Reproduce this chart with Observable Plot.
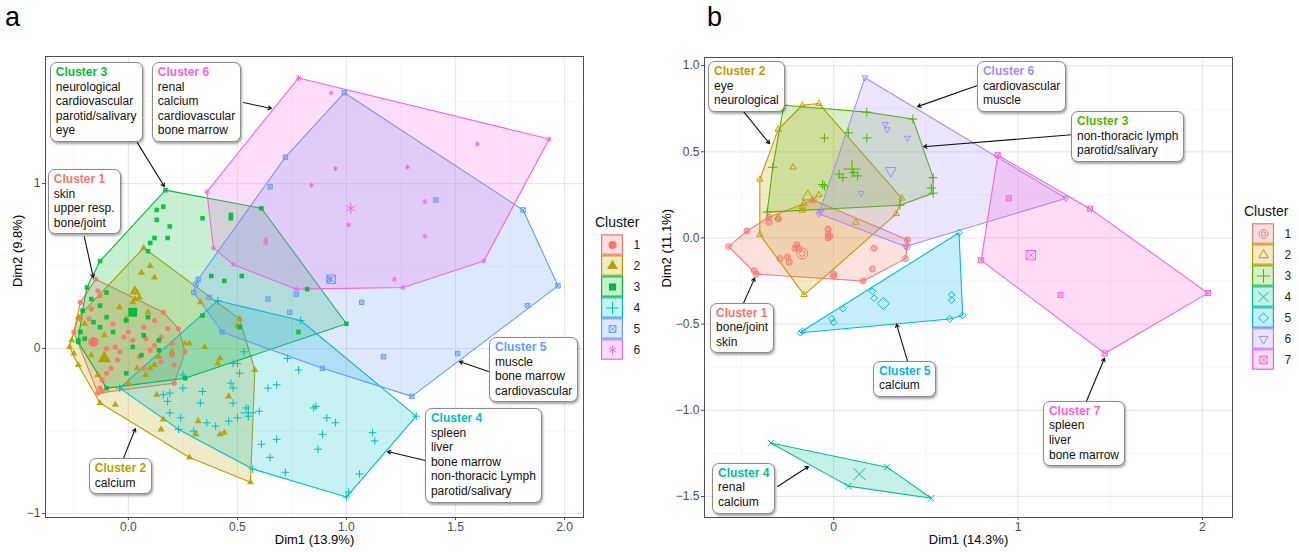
<!DOCTYPE html>
<html><head><meta charset="utf-8">
<script src="https://cdn.jsdelivr.net/npm/d3@7"></script>
<script src="https://cdn.jsdelivr.net/npm/@observablehq/plot@0.6"></script>
<style>
body{margin:0;background:#fff;font-family:"Liberation Sans",Arial,sans-serif;}
#wrap{position:relative;width:1299px;height:552px;overflow:hidden;background:#fff;}
.abs{position:absolute;white-space:nowrap;}
.box{position:absolute;background:#fff;border:1.3px solid #8c8c8c;border-radius:7px;box-shadow:1px 1.5px 2.5px rgba(0,0,0,0.35);padding:2px 5px 3px 5px;font-size:12px;line-height:14.6px;color:#111;white-space:nowrap;}
.box b{display:block;}
</style></head><body><div id="wrap"></div><script>
// ---------- Panel a data ----------
const clustersA = ["1","2","3","4","5","6"];
const colorsA = ["#F8766D","#B79F00","#00BA38","#00BFC4","#619CFF","#F564E3"];
const a1 = [[-0.15,0.42],[0.16,0.22],[0.23,0.12],[0.26,-0.02],[0.21,-0.21],[-0.12,-0.26],[-0.14,-0.27],[-0.25,0.10],[-0.22,0.28],
 [-0.14,0.35],[-0.13,0.32],[-0.17,0.24],[-0.18,0.18],[-0.07,0.15],[-0.02,0.07],[0.07,0.13],[0.08,0.06],[0.10,-0.01],[-0.05,-0.07],[-0.08,-0.12],
 [-0.10,-0.15],[0.07,-0.12],[0.20,-0.04],[0.20,0.03],[0.15,0.07],[0.18,0.12],[0.02,0.05],[-0.04,-0.02],[-0.12,-0.19],[-0.22,0.18],[-0.13,-0.24],
 [0.12,0.02],[0.15,-0.08],[0.05,-0.05],[0.21,-0.10],[-0.06,0.01],[0.12,0.17],[0.00,0.10],[-0.10,0.00]];
const a2 = [[0.07,0.61],[0.51,0.18],[0.58,-0.13],[0.56,-0.81],[0.28,-0.66],[-0.13,-0.33],[-0.23,-0.10],[-0.27,0.01],[-0.26,0.05],
 [0.10,0.50],[0.12,0.43],[0.06,0.46],[0.03,0.36],[0.02,0.34],[0.04,0.34],[0.02,0.28],[-0.01,0.18],[-0.11,0.08],[0.33,0.28],[0.28,0.03],
 [0.35,0.01],[0.42,-0.06],[0.41,-0.09],[0.50,0.14],[0.12,-0.10],[0.10,-0.12],[0.04,-0.12],[0.13,-0.28],[-0.06,-0.34],[0.16,-0.43],[0.15,-0.49],
 [0.32,-0.44],[0.31,-0.52],[0.44,-0.51],[0.46,-0.29],[0.42,-0.52],[-0.23,0.19],[-0.20,0.15],[-0.17,-0.04],[-0.25,-0.03],[-0.14,-0.16],[0.00,-0.21],
 [0.08,-0.16],[0.26,0.03],[0.03,0.30],[0.05,0.31],[0.14,-0.05],[0.20,-0.02],[-0.04,0.25],[0.09,0.22]];
const a3 = [[0.17,0.96],[0.61,0.85],[1.00,0.15],[-0.10,-0.24],[-0.23,0.05],[-0.19,0.37],
 [0.13,0.84],[0.16,0.86],[0.13,0.78],[0.19,0.74],[0.12,0.67],[0.10,0.64],[0.18,0.67],[0.09,0.59],[0.34,0.79],[0.47,0.81],[0.47,0.79],
 [0.38,0.44],[0.44,0.41],[0.52,0.44],[0.82,0.36],[-0.13,0.53],[0.34,0.20],[0.51,0.13],[0.78,0.10],[0.26,-0.18],[0.14,-0.01],[0.02,0.01],
 [-0.17,0.30],[-0.13,0.26],[-0.21,0.23],[-0.10,0.19],[-0.16,0.16],[-0.13,0.13],[-0.22,0.10],[-0.20,0.06],[-0.07,0.10],[-0.01,0.17],[0.09,0.19],
 [0.14,0.05],[-0.01,-0.15],[0.06,-0.04],[-0.10,0.34],[0.07,0.08],[-0.23,0.04]];
const a4 = [[-0.04,-0.24],[0.41,0.29],[0.79,0.17],[1.32,-0.41],[1.00,-0.90],[0.57,-0.73],
 [0.53,-0.02],[0.50,-0.09],[0.51,-0.15],[0.48,-0.24],[0.54,-0.36],[0.55,-0.41],[0.50,-0.42],[0.60,-0.38],[0.64,-0.24],[0.68,-0.22],[0.73,-0.06],
 [0.78,-0.13],[0.86,-0.35],[0.85,-0.36],[0.91,-0.42],[0.95,-0.45],[0.89,-0.52],[0.87,-0.61],[0.68,-0.55],[0.61,-0.58],[0.65,-0.66],[0.72,-0.75],
 [1.06,-0.76],[1.12,-0.51],[1.13,-0.56],[1.01,-0.87],[0.16,-0.28],[0.19,-0.27],[0.19,-0.39],[0.25,-0.24],[0.25,-0.16],[0.33,-0.33],[0.34,-0.26],
 [0.36,-0.45],[0.24,-0.42],[0.30,-0.50],[0.23,-0.49],[0.47,-0.21],[0.48,-0.33],[0.48,-0.09],[0.18,-0.32],[0.46,-0.44],[0.40,-0.47]];
const a5 = [[0.99,1.55],[1.81,0.84],[1.97,0.38],[1.30,-0.29],[0.89,-0.12],[0.43,0.10],[0.30,0.34],[0.31,0.39],
 [0.72,1.16],[0.65,0.98],[0.92,0.42],[1.41,0.90],[0.64,0.30],[0.77,0.33],[0.74,0.22],[1.07,0.28],[1.17,-0.05],[1.51,-0.03],[1.83,0.26],[0.37,0.31],[0.32,0.42]];
const a6 = [[0.78,1.64],[1.93,1.27],[1.63,0.53],[1.26,0.37],[0.77,0.36],[0.48,0.51],[0.39,0.61],[0.36,0.95],
 [0.93,1.55],[1.60,1.24],[0.95,1.09],[1.28,1.10],[0.84,0.99],[1.01,0.75],[1.36,0.89],[1.36,0.68],[1.22,0.42],[0.63,0.66],[0.63,0.64]];
const centroidsA = [["1",-0.16,0.04],["2",-0.11,-0.06],["3",0.02,0.22],["4",0.55,-0.39],["5",0.93,0.42],["6",1.02,0.85]];
const aXTicks = [0,0.5,1,1.5,2], aXMinor = [-0.25,0.25,0.75,1.25,1.75];
const aYTicks = [-1,0,1], aYMinor = [-0.5,0.5,1.5];
const notesA = [
 {c:"3", lines:["neurological","cardiovascular","parotid/salivary","eye"], bx:-0.358, by:1.733, x1:0.041, y1:1.248, x2:0.165, y2:0.982},
 {c:"6", lines:["renal","calcium","cardiovascular","bone marrow"], bx:0.110, by:1.733, x1:0.528, y1:1.491, x2:0.656, y2:1.455},
 {c:"1", lines:["skin","upper resp.","bone/joint"], bx:-0.367, by:1.085, x1:-0.202, y1:0.679, x2:-0.161, y2:0.430},
 {c:"2", lines:["calcium"], bx:-0.179, by:-0.667, x1:-0.023, y1:-0.667, x2:0.032, y2:-0.485},
 {c:"5", lines:["muscle","bone marrow","cardiovascular"], bx:1.656, by:0.067, x1:1.651, y1:-0.139, x2:1.518, y2:-0.079},
 {c:"4", lines:["spleen","liver","bone marrow","non-thoracic Lymph","parotid/salivary"], bx:1.362, by:-0.364, x1:1.362, y1:-0.679, x2:1.188, y2:-0.624}
];
// ---------- Panel b data ----------
const clustersB = ["1","2","3","4","5","6","7"];
const colorsB = ["#F8766D","#C49A00","#53B400","#00C094","#00B6EB","#A58AFF","#FB61D7"];
const b1 = [[-0.57,-0.05],[-0.47,0.04],[-0.35,0.12],[-0.11,0.22],[0.40,-0.01],[0.40,-0.05],[0.39,-0.12],[0.16,-0.25],[0.00,-0.22],[-0.42,-0.21],[-0.43,-0.19],
 [-0.35,0.09],[-0.30,0.11],[-0.20,-0.04],[-0.21,-0.06],[-0.19,-0.06],[-0.29,-0.12],[-0.25,-0.11],[-0.24,-0.14],[-0.03,0.05],[-0.03,0.02],[-0.02,0.01],[-0.03,0.00],[0.22,-0.06],[0.21,-0.18],[0.00,-0.21]];
const b2 = [[-0.17,0.77],[-0.08,0.78],[0.37,0.23],[0.34,0.14],[-0.16,-0.33],[-0.40,0.02],[-0.40,0.34],[-0.30,0.63],
 [-0.22,0.41],[-0.08,0.25],[-0.16,0.20],[-0.17,0.16],[-0.30,0.12],[0.12,0.09],[-0.17,0.18]];
const b3 = [[-0.27,0.77],[0.18,0.73],[0.43,0.69],[0.54,0.35],[0.54,0.26],[0.36,0.19],[-0.36,0.15],
 [-0.33,0.41],[-0.05,0.58],[0.18,0.58],[0.08,0.61],[0.03,0.37],[0.05,0.35],[0.11,0.38],[0.13,0.36],[-0.06,0.31],[0.53,0.29],[-0.05,0.30]];
const b4 = [[-0.34,-1.19],[0.29,-1.33],[0.53,-1.51],[0.08,-1.44]];
const b5 = [[-0.18,-0.55],[-0.17,-0.54],[0.68,0.03],[0.70,-0.45],[0.63,-0.47],[0.05,-0.41],[-0.01,-0.47],[0.00,-0.49],[0.21,-0.31],[0.22,-0.35],[0.64,-0.33],[0.64,-0.36]];
const b6 = [[0.17,0.93],[1.26,0.23],[0.39,-0.05],[-0.08,0.14],[0.28,0.66],[0.29,0.63],[0.40,0.58],[0.15,0.26],[-0.07,0.15]];
const b7 = [[0.89,0.48],[1.39,0.17],[2.03,-0.32],[1.47,-0.67],[0.80,-0.13],[0.95,0.23],[1.23,-0.33]];
const centroidsB = [["1",-0.17,-0.09],["2",-0.14,0.24],["3",0.10,0.40],["4",0.14,-1.37],["5",0.27,-0.38],["6",0.31,0.39],["7",1.07,-0.10]];
const bXTicks = [0,1,2], bXMinor = [-0.5,0.5,1.5];
const bYTicks = [-1.5,-1,-0.5,0,0.5,1], bYMinor = [-1.25,-0.75,-0.25,0.25,0.75];
const notesB = [
 {c:"2", lines:["eye","neurological"], bx:-0.678, by:1.023, x1:-0.488, y1:0.733, x2:-0.347, y2:0.547},
 {c:"6", lines:["cardiovascular","muscle"], bx:0.780, by:1.023, x1:0.780, y1:0.884, x2:0.455, y2:0.762},
 {c:"3", lines:["non-thoracic lymph","parotid/salivary"], bx:1.290, by:0.733, x1:1.290, y1:0.599, x2:0.488, y2:0.529},
 {c:"1", lines:["bone/joint","skin"], bx:-0.667, by:-0.378, x1:-0.488, y1:-0.378, x2:-0.428, y2:-0.233},
 {c:"5", lines:["calcium"], bx:0.217, by:-0.715, x1:0.401, y1:-0.715, x2:0.341, y2:-0.5},
 {c:"4", lines:["renal","calcium"], bx:-0.656, by:-1.308, x1:-0.304, y1:-1.442, x2:-0.136, y2:-1.326},
 {c:"7", lines:["spleen","liver","bone marrow"], bx:1.138, by:-0.948, x1:1.371, y1:-0.948, x2:1.469, y2:-0.698}
];

// ---------- custom symbols ----------
const symRing = {draw(ctx, size){const r=Math.sqrt(size/Math.PI); ctx.moveTo(r,0); ctx.arc(0,0,r,0,2*Math.PI); ctx.moveTo(r*0.5,0); ctx.arc(0,0,r*0.5,0,2*Math.PI);}};
const symSquareX = {draw(ctx, size){const s=Math.sqrt(size/Math.PI)*0.85; ctx.rect(-s,-s,2*s,2*s); ctx.moveTo(-s,-s); ctx.lineTo(s,s); ctx.moveTo(s,-s); ctx.lineTo(-s,s);}};
const symTriDown = {draw(ctx, size){const R=Math.sqrt(size/Math.PI)*1.15; ctx.moveTo(0,R); ctx.lineTo(-R*0.866,-R*0.5); ctx.lineTo(R*0.866,-R*0.5); ctx.closePath();}};
const symbolsA = ["circle","triangle","square","plus",symSquareX,"asterisk"];
const symbolsB = [symRing,"triangle2","plus","times","diamond2",symTriDown,symSquareX];
const filledA = new Set(["1","2","3"]);
const filledB = new Set([]);

const toRows = (arrs, clusters) => arrs.flatMap((a,i) => a.map(([x,y]) => ({cluster:clusters[i], x, y})));
const ptsA = toRows([a1,a2,a3,a4,a5,a6], clustersA);
const ptsB = toRows([b1,b2,b3,b4,b5,b6,b7], clustersB);
const centA = centroidsA.map(([cluster,x,y]) => ({cluster,x,y}));
const centB = centroidsB.map(([cluster,x,y]) => ({cluster,x,y}));

const FONT = "Liberation Sans, Arial, sans-serif";

function panel(o){
  const fillPts = o.pts.filter(d => o.filled.has(d.cluster));
  const strokePts = o.pts.filter(d => !o.filled.has(d.cluster));
  const fillC = o.cents.filter(d => o.filled.has(d.cluster));
  const strokeC = o.cents.filter(d => !o.filled.has(d.cluster));
  return Plot.plot({
    width:o.width, height:552, marginLeft:o.ml, marginRight:o.mr, marginTop:o.mt, marginBottom:o.mb,
    style:{fontFamily:FONT, fontSize:"12px", background:"transparent", overflow:"visible"},
    x:{domain:o.xDomain}, y:{domain:o.yDomain},
    color:{type:"ordinal", domain:o.clusters, range:o.colors},
    symbol:{domain:o.clusters, range:o.symbols},
    marks:[
      Plot.gridX(o.xMinor, {stroke:"#F2F2F2", strokeOpacity:1, strokeWidth:0.8}),
      Plot.gridY(o.yMinor, {stroke:"#F2F2F2", strokeOpacity:1, strokeWidth:0.8}),
      Plot.gridX(o.xTicks, {stroke:"#E8E8E8", strokeOpacity:1, strokeWidth:1.2}),
      Plot.gridY(o.yTicks, {stroke:"#E8E8E8", strokeOpacity:1, strokeWidth:1.2}),
      Plot.hull(o.pts, {x:"x", y:"y", fill:"cluster", stroke:"cluster", fillOpacity:0.22, strokeWidth:1.1}),
      Plot.dot(fillPts, {x:"x", y:"y", symbol:"cluster", fill:"cluster", stroke:"none", r:o.r, fillOpacity:0.9}),
      Plot.dot(strokePts, {x:"x", y:"y", symbol:"cluster", stroke:"cluster", fill:"none", r:o.r, strokeWidth:1}),
      Plot.dot(fillC, {x:"x", y:"y", symbol:"cluster", fill:"cluster", stroke:"none", r:o.rc}),
      Plot.dot(strokeC, {x:"x", y:"y", symbol:"cluster", stroke:"cluster", fill:"none", r:o.rc, strokeWidth:1}),
      Plot.arrow(o.notes, {x1:"x1", y1:"y1", x2:"x2", y2:"y2", stroke:"#111", strokeWidth:1.1, headLength:5}),
      Plot.frame({stroke:"#4d4d4d", strokeWidth:1}),
      Plot.axisX(o.xTicks, {tickFormat:o.xFmt, tickSize:3, tickPadding:2, label:null, color:"#4d4d4d", fontSize:12}),
      Plot.axisY(o.yTicks, {tickFormat:o.yFmt, tickSize:3, tickPadding:2, label:null, color:"#4d4d4d", fontSize:12}),
      Plot.text([o.xLabel], {text:d=>d, frameAnchor:"bottom", dy:26, fontSize:13, fill:"black"}),
      Plot.text([o.yLabel], {text:d=>d, frameAnchor:"left", rotate:-90, dx:o.yDx, fontSize:13, fill:"black"})
    ]
  });
}

function legend(clusters, colors, symbols, filled, r){
  return Plot.plot({
    width:44, height:clusters.length*21.3, margin:0,
    style:{fontFamily:FONT, fontSize:"12px", background:"transparent", overflow:"visible"},
    x:{type:"band", domain:["s","l"], axis:null, padding:0},
    y:{type:"band", domain:clusters, axis:null, padding:0},
    color:{type:"ordinal", domain:clusters, range:colors},
    symbol:{domain:clusters, range:symbols},
    marks:[
      Plot.cell(clusters, {x:()=>"s", y:d=>d, fill:d=>d, stroke:d=>d, fillOpacity:0.22, strokeWidth:1.2, insetTop:0.8, insetBottom:0.8, insetLeft:0.6, insetRight:0.6}),
      Plot.dot(clusters.filter(c=>filled.has(c)), {x:()=>"s", y:d=>d, symbol:d=>d, fill:d=>d, stroke:"none", r}),
      Plot.dot(clusters.filter(c=>!filled.has(c)), {x:()=>"s", y:d=>d, symbol:d=>d, stroke:d=>d, fill:"none", r, strokeWidth:1}),
      Plot.text(clusters, {x:()=>"l", y:d=>d, text:d=>d, textAnchor:"start", dx:-1, fill:"#222", fontSize:12})
    ]
  });
}

const wrap = document.getElementById("wrap");
function place(el, left, top){ el.style.position="absolute"; el.style.left=left+"px"; el.style.top=top+"px"; wrap.appendChild(el); }
function addBoxes(svg, notes, colors, clusters, offset){
  const sx = svg.scale("x"), sy = svg.scale("y");
  for (const n of notes){
    const d = document.createElement("div");
    d.className = "box";
    const t = document.createElement("b");
    t.textContent = "Cluster " + n.c;
    t.style.color = colors[clusters.indexOf(n.c)];
    d.appendChild(t);
    for (const l of n.lines){ const s = document.createElement("div"); s.textContent = l; d.appendChild(s); }
    d.style.left = (offset + sx.apply(n.bx)) + "px";
    d.style.top = sy.apply(n.by) + "px";
    wrap.appendChild(d);
  }
}
function addText(txt, left, top, size, color){
  const d = document.createElement("div"); d.className="abs"; d.textContent = txt;
  d.style.left=left+"px"; d.style.top=top+"px"; d.style.fontSize=size+"px"; d.style.color=color||"#000"; d.style.lineHeight="1";
  wrap.appendChild(d);
}

const svgA = panel({pts:ptsA, cents:centA, clusters:clustersA, colors:colorsA, symbols:symbolsA, filled:filledA,
  xDomain:[-0.38,2.087], yDomain:[-1.024,1.77], xTicks:aXTicks, xMinor:aXMinor, yTicks:aYTicks, yMinor:aYMinor,
  xFmt:d3.format(".1f"), yFmt:d3.format("d"), xLabel:"Dim1 (13.9%)", yLabel:"Dim2 (9.8%)", yDx:-28,
  width:660, ml:45, mr:77, mt:56, mb:35, r:2.6, rc:5, notes:notesA});
place(svgA, 0, 0);
const svgB = panel({pts:ptsB, cents:centB, clusters:clustersB, colors:colorsB, symbols:symbolsB, filled:filledB,
  xDomain:[-0.70,2.163], yDomain:[-1.622,1.047], xTicks:bXTicks, xMinor:bXMinor, yTicks:bYTicks, yMinor:bYMinor,
  xFmt:d3.format("d"), yFmt:d3.format(".1f"), xLabel:"Dim1 (14.3%)", yLabel:"Dim2 (11.1%)", yDx:-38,
  width:639, ml:44, mr:67, mt:57, mb:35, r:3, rc:5.5, notes:notesB});
place(svgB, 660, 0);
addBoxes(svgA, notesA, colorsA, clustersA, 0);
addBoxes(svgB, notesB, colorsB, clustersB, 660);

place(legend(clustersA, colorsA, symbolsA, filledA, 4), 601, 233.4);
place(legend(clustersB, colorsB, symbolsB, filledB, 4.5), 1252, 222.4);
addText("Cluster", 595, 215, 14, "#111");
addText("Cluster", 1244, 204, 14, "#111");
addText("a", 5, 4, 27, "#000");
addText("b", 707, 4, 27, "#000");
</script></body></html>
